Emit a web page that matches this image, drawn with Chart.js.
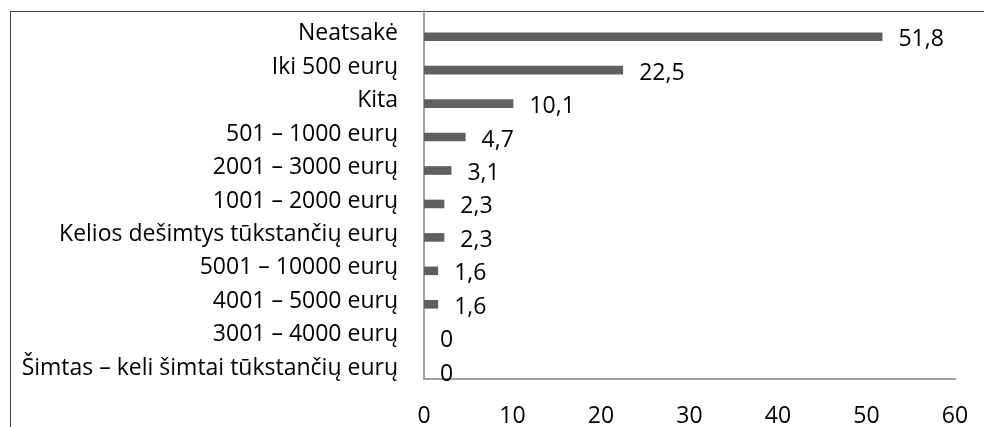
<!DOCTYPE html>
<html>
<head>
<meta charset="utf-8">
<script src="https://cdn.jsdelivr.net/npm/chart.js@4.4.1/dist/chart.umd.min.js"></script>
<style>
  html,body{margin:0;padding:0;background:#fff;overflow:hidden;}
  #wrap{position:relative;width:984px;height:427px;overflow:hidden;}
  #frame{position:absolute;left:10px;top:11px;width:2000px;height:2000px;border-top:1px solid #404040;border-left:1px solid #404040;box-sizing:border-box;}
  canvas{position:absolute;left:0;top:0;}
</style>
</head>
<body>
<div id="wrap">
  <div id="frame"></div>
  <canvas id="c" width="984" height="427"></canvas>
</div>
<script>
const categories = ['Neatsakė','Iki 500 eurų','Kita','501 – 1000 eurų','2001 – 3000 eurų','1001 – 2000 eurų','Kelios dešimtys tūkstančių eurų','5001 – 10000 eurų','4001 – 5000 eurų','3001 – 4000 eurų','Šimtas – keli šimtai tūkstančių eurų'];
const values = [51.8, 22.5, 10.1, 4.7, 3.1, 2.3, 2.3, 1.6, 1.6, 0, 0];
const xTicks = [0, 10, 20, 30, 40, 50, 60];

const FONT = {family: '"Open Sans", sans-serif', size: 23};

const valueLabels = {
  id: 'valueLabels',
  afterDatasetsDraw(chart) {
    const ctx = chart.ctx;
    const meta = chart.getDatasetMeta(1);
    ctx.save();
    ctx.font = FONT.size + 'px ' + FONT.family;
    ctx.fillStyle = '#000';
    ctx.textAlign = 'left';
    ctx.textBaseline = 'middle';
    meta.data.forEach((el, i) => {
      const v = values[i];
      ctx.fillText(String(v).replace('.', ','), el.x + 16, el.y + 3);
    });
    ctx.restore();
  }
};

function zeroPad(s) { s.paddingTop = 0; s.paddingBottom = 0; s.paddingLeft = 0; s.paddingRight = 0; }

new Chart(document.getElementById('c'), {
  type: 'bar',
  data: {
    labels: categories,
    datasets: [
      {data: categories.map(() => null), backgroundColor: 'rgba(0,0,0,0)'},
      {data: values, backgroundColor: '#5f5f5f'}
    ]
  },
  options: {
    indexAxis: 'y',
    responsive: false,
    animation: false,
    devicePixelRatio: 1,
    categoryPercentage: 1.07,
    barPercentage: 0.48,
    layout: {padding: {top: 11, right: 29, left: 0, bottom: 0}},
    plugins: {legend: {display: false}, tooltip: {enabled: false}},
    scales: {
      x: {
        min: 0, max: 60,
        afterBuildTicks(s) { s.ticks = xTicks.map(v => ({value: v})); },
        ticks: {color: '#000', font: FONT, padding: 24, maxRotation: 0},
        grid: {display: false, drawTicks: false},
        border: {color: '#a0a0a0', width: 2},
        afterFit(s) { s.height = 48; zeroPad(s); }
      },
      y: {
        ticks: {color: '#000', font: FONT, padding: 26, autoSkip: false, labelOffset: 6},
        grid: {display: false, drawTicks: false},
        border: {color: '#a0a0a0', width: 2},
        afterFit(s) { s.width = 424; zeroPad(s); }
      }
    }
  },
  plugins: [valueLabels]
});
</script>
</body>
</html>
